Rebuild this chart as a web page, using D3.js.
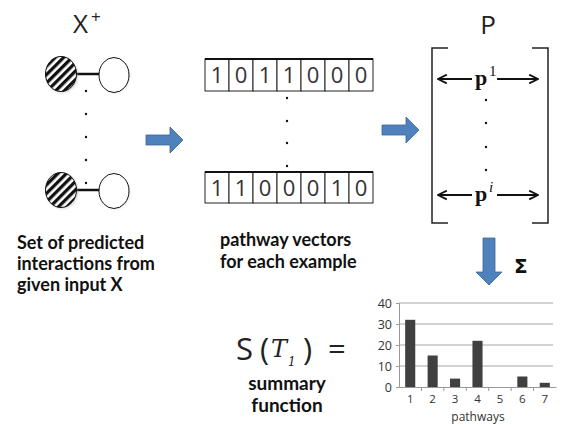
<!DOCTYPE html>
<html><head><meta charset="utf-8">
<script src="https://cdn.jsdelivr.net/npm/d3@7"></script>
<style>body{margin:0;background:#fff}svg{display:block}</style>
</head><body>
<script>
// ---- data ----
const pathways = ["1","2","3","4","5","6","7"];
const counts = [32, 15, 4, 22, 0, 5, 2];
const yTicks = [0, 10, 20, 30, 40];
const vectorFirst = [1,0,1,1,0,0,0];
const vectorLast = [1,1,0,0,0,1,0];
const leftCaption = ["Set of predicted", "interactions from", "given input X"];
const midCaption = ["pathway vectors", "for each example"];
const sumCaption = ["summary", "function"];

const W = 564, H = 425;
const svg = d3.select("body").append("svg").attr("width", W).attr("height", H);
const defs = svg.append("defs");

// hatch pattern
const pat = defs.append("pattern").attr("id","hatch").attr("patternUnits","userSpaceOnUse")
  .attr("width",6).attr("height",6).attr("patternTransform","rotate(45)");
pat.append("rect").attr("width",6).attr("height",6).attr("fill","#fff");
pat.append("rect").attr("width",3.3).attr("height",6).attr("fill","#111");
const blur = defs.append("filter").attr("id","sh").attr("x","-30%").attr("y","-30%").attr("width","160%").attr("height","160%");
blur.append("feGaussianBlur").attr("stdDeviation",1.2);

const sans = "'Open Sans', 'Liberation Sans', sans-serif";
const bold = "Lato, 'Open Sans', sans-serif";

// ---- X+ ----
svg.append("text").attr("x",73).attr("y",33).attr("font-family",sans).attr("font-size",26)
  .attr("fill","#222").text("X");
svg.append("text").attr("x",91).attr("y",23).attr("font-family",sans).attr("font-size",17)
  .attr("fill","#222").text("+");

function pair(cy){
  const g = svg.append("g");
  g.append("line").attr("x1",75).attr("x2",101).attr("y1",cy).attr("y2",cy).attr("stroke","#111").attr("stroke-width",2.5);
  g.append("ellipse").attr("cx",62).attr("cy",cy+1).attr("rx",16).attr("ry",17.5).attr("fill","#999").attr("opacity",0.5).attr("filter","url(#sh)");
  g.append("ellipse").attr("cx",61).attr("cy",cy).attr("rx",15.5).attr("ry",17.5).attr("fill","url(#hatch)").attr("stroke","#111").attr("stroke-width",1);
  g.append("ellipse").attr("cx",115).attr("cy",cy+2).attr("rx",15).attr("ry",17.5).attr("fill","#bbb").attr("opacity",0.4).attr("filter","url(#sh)");
  g.append("ellipse").attr("cx",114).attr("cy",cy+1).attr("rx",15).attr("ry",17.5).attr("fill","#fff").attr("stroke","#111").attr("stroke-width",1);
}
pair(74); pair(190);
[91,114,137,160,183].forEach(y=>svg.append("circle").attr("cx",86).attr("cy",y).attr("r",1.2).attr("fill","#111"));

// left caption
leftCaption.forEach((t,i)=>svg.append("text").attr("x",17).attr("y",249+i*21).attr("font-family",bold)
  .attr("font-weight","bold").attr("font-size",18).attr("fill","#111").text(t));

// ---- blue arrows ----
function rightArrow(x,cy){
  svg.append("path").attr("d",`M${x},${cy-5}H${x+24}V${cy-13}L${x+37},${cy}L${x+24},${cy+13}V${cy+5}H${x}Z`)
    .attr("fill","#4f81bd").attr("stroke","#3a6593").attr("stroke-width",0.8);
}
rightArrow(146,140);
rightArrow(382,130);
function downArrow(cx,y){
  svg.append("path").attr("d",`M${cx-6},${y}H${cx+6}V${y+34}H${cx+13}L${cx},${y+47}L${cx-13},${y+34}H${cx-6}Z`)
    .attr("fill","#4f81bd").attr("stroke","#3a6593").attr("stroke-width",0.8);
}
downArrow(489,238);
svg.append("text").attr("x",514).attr("y",273).attr("font-family","'DejaVu Sans', sans-serif").attr("font-weight","bold")
  .attr("font-size",20).attr("fill","#111").text("Σ");

// ---- vectors ----
const cellX = d3.scaleBand().domain(d3.range(7)).range([205,373]);
function vec(vals, y0, h){
  const g = svg.append("g");
  g.selectAll("rect").data(vals).join("rect").attr("x",(d,i)=>cellX(i)).attr("y",y0)
    .attr("width",cellX.bandwidth()).attr("height",h).attr("fill","#fff").attr("stroke","#222").attr("stroke-width",1);
  g.append("line").attr("x1",205).attr("x2",373).attr("y1",y0).attr("y2",y0).attr("stroke","#111").attr("stroke-width",2);
  g.selectAll("text").data(vals).join("text").attr("x",(d,i)=>cellX(i)+cellX.bandwidth()/2).attr("y",y0+h/2+8)
    .attr("text-anchor","middle").attr("font-family",sans).attr("font-size",22).attr("fill","#333").text(d=>d);
}
vec(vectorFirst,59,32);
vec(vectorLast,172,31);
[98,121,143,166].forEach(y=>svg.append("circle").attr("cx",287).attr("cy",y).attr("r",1.2).attr("fill","#111"));

midCaption.forEach((t,i)=>svg.append("text").attr("x",220).attr("y",246+i*22).attr("font-family",bold)
  .attr("font-weight","bold").attr("font-size",18).attr("fill","#111").text(t));

// ---- P matrix ----
svg.append("text").attr("x",488).attr("y",34).attr("text-anchor","middle").attr("font-family",sans)
  .attr("font-size",26).attr("fill","#222").text("P");
svg.append("path").attr("d","M448,48H432V223H448").attr("fill","none").attr("stroke","#222").attr("stroke-width",1.5);
svg.append("path").attr("d","M532,48H548V223H532").attr("fill","none").attr("stroke","#222").attr("stroke-width",1.5);
defs.append("marker").attr("id","ah").attr("viewBox","0 0 10 10").attr("refX",9).attr("refY",5)
  .attr("markerWidth",11).attr("markerHeight",11).attr("markerUnits","userSpaceOnUse").attr("orient","auto")
  .append("path").attr("d","M1,1L9,5L1,9").attr("fill","none").attr("stroke","#111").attr("stroke-width",1.6);
function prow(y, sup, italic){
  svg.append("line").attr("x1",472).attr("x2",438).attr("y1",y).attr("y2",y).attr("stroke","#111").attr("stroke-width",2).attr("marker-end","url(#ah)");
  svg.append("line").attr("x1",497).attr("x2",538).attr("y1",y).attr("y2",y).attr("stroke","#111").attr("stroke-width",2).attr("marker-end","url(#ah)");
  svg.append("text").attr("x",475).attr("y",y+6).attr("font-family","'Liberation Serif', serif").attr("font-weight","bold")
    .attr("font-size",22).attr("fill","#111").text("p");
  svg.append("text").attr("x",489).attr("y",y-3).attr("font-family","'Liberation Serif', serif")
    .attr("font-style",italic?"italic":"normal").attr("font-size",15).attr("fill","#111").text(sup);
}
prow(79,"1",false);
prow(195,"i",true);
[100,123,147,170].forEach(y=>svg.append("circle").attr("cx",486).attr("cy",y).attr("r",1.2).attr("fill","#111"));

// ---- S(T1) = ----
const eq = svg.append("text").attr("y",360).attr("font-family",sans).attr("font-size",31).attr("fill","#222");
eq.append("tspan").attr("x",236).text("S");
eq.append("tspan").attr("x",260).text("(");
eq.append("tspan").attr("x",303).text(")");
eq.append("tspan").attr("x",328).text("=");
svg.append("text").attr("x",271).attr("y",357).attr("font-family","'DejaVu Serif', serif").attr("font-style","italic")
  .attr("font-size",24).attr("fill","#222").text("T");
svg.append("text").attr("x",288).attr("y",366).attr("font-family","'DejaVu Serif', serif").attr("font-style","italic")
  .attr("font-size",12).attr("fill","#222").text("1");
sumCaption.forEach((t,i)=>svg.append("text").attr("x",287).attr("y",390+i*22).attr("text-anchor","middle").attr("font-family",bold)
  .attr("font-weight","bold").attr("font-size",19).attr("fill","#111").text(t));

// ---- bar chart ----
const x = d3.scaleBand().domain(pathways).range([399,556]).paddingInner(0.55).paddingOuter(0.275);
const xb = d3.scaleBand().domain(pathways).range([399,556]);
const y = d3.scaleLinear().domain([0,40]).range([387,303]);
const ch = svg.append("g").attr("font-family",sans);
ch.selectAll("line.grid").data(yTicks.slice(1)).join("line").attr("class","grid")
  .attr("x1",399).attr("x2",553).attr("y1",d=>y(d)).attr("y2",d=>y(d)).attr("stroke","#a6a6a6").attr("stroke-width",1);
const ya = ch.append("g").attr("transform","translate(399,0)").call(d3.axisLeft(y).tickValues(yTicks).tickSize(3).tickPadding(4));
ya.select(".domain").attr("stroke","#999");
ya.selectAll(".tick line").attr("stroke","#999");
ya.selectAll("text").attr("font-size",12.5).attr("fill","#333").attr("font-family",sans);
ch.selectAll("rect.bar").data(counts).join("rect").attr("class","bar")
  .attr("x",(d,i)=>x(pathways[i])).attr("width",x.bandwidth())
  .attr("y",d=>y(d)).attr("height",d=>y(0)-y(d)).attr("fill","#404040");
const xa = ch.append("g").attr("transform","translate(0,387)").call(d3.axisBottom(xb).tickSize(0).tickPadding(8));
xa.select(".domain").attr("stroke","#999");
xa.selectAll("text").attr("font-size",11.5).attr("fill","#333").attr("font-family",sans);
ch.selectAll("line.xt").data(pathways.slice(1)).join("line").attr("class","xt")
  .attr("x1",d=>xb(d)).attr("x2",d=>xb(d)).attr("y1",387).attr("y2",391).attr("stroke","#999");
ch.append("text").attr("x",478).attr("y",421).attr("text-anchor","middle").attr("font-size",12).attr("fill","#333").text("pathways");
</script>
</body></html>
